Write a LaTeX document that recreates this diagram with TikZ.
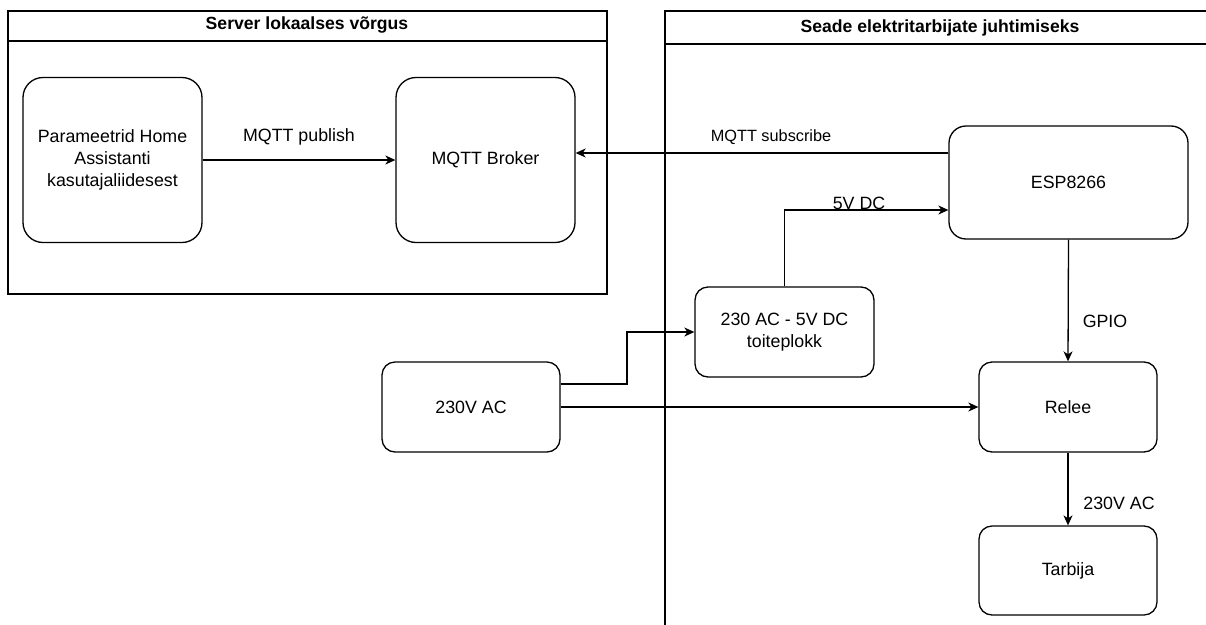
\documentclass[tikz,border=0pt]{standalone}
\usepackage{fontspec}
\setmainfont{Liberation Sans}
\usetikzlibrary{arrows.meta,calc}
\begin{document}
\begin{tikzpicture}[x=1pt,y=-1pt,
  every node/.style={font=\fontsize{17.8}{21.7}\selectfont},
  box/.style={draw, line width=1.3pt, rounded corners=#1, align=center, inner sep=0pt},
  box/.default=13pt,
  arr/.style={draw, line width=1.3pt, -{Stealth[length=10pt,width=9pt,inset=3pt]}},
  frame/.style={draw, line width=1.3pt},
  lbl/.style={inner sep=0pt},
  title/.style={inner sep=0pt, font=\fontsize{17.6}{21}\selectfont\bfseries}]
\clip (0,0) rectangle (1206,624);
\fill[white] (0,0) rectangle (1206,624);
% containers
\draw[frame] (8,11) rectangle (607,294);
\draw[frame] (8,41) -- (607,41);
\node[title] (t1) at (307,25) {Server lokaalses võrgus};
\draw[frame] (665,11) rectangle (1230,650);
\draw[frame] (665,44) -- (1230,44);
\node[title] (t2) at (940,28) {Seade elektritarbijate juhtimiseks};
% nodes
\node[box=20pt, minimum width=179pt, minimum height=165pt] (param) at (112.5,160) {Parameetrid Home\\Assistanti\\kasutajaliidesest};
\node[box=20pt, minimum width=179pt, minimum height=165pt] (broker) at (485.5,160) {MQTT Broker};
\node[box=17pt, minimum width=239pt, minimum height=113pt] (esp) at (1068.5,182.5) {ESP8266};
\node[box, minimum width=179pt, minimum height=90pt] (psu) at (784.5,332) {230 AC - 5V DC\\toiteplokk};
\node[box, minimum width=178pt, minimum height=90pt] (ac) at (471,407) {230V AC};
\node[box, minimum width=178pt, minimum height=90pt] (relee) at (1068,407) {Relee};
\node[box, minimum width=178pt, minimum height=89pt] (tarb) at (1068,570.5) {Tarbija};
% connectors
\draw[arr] (param) -- (broker);
\node[lbl] (l1) at (299,137) {MQTT publish};
\draw[arr] (esp.west |- 0,153) -- (broker.east |- 0,153);
\node[lbl, font=\fontsize{16.3}{19}\selectfont] (l2) at (771,137) {MQTT subscribe};
\draw[arr] (psu.north) |- (esp.west |- 0,210);
\node[lbl] (l3) at (859,203) {5V DC};
\draw[arr] (ac.east |- 0,384) -- (627,384) |- (psu.west);
\draw[arr] (ac) -- (relee);
\draw[arr] (esp.south) -- (relee.north);
\node[lbl] (l4) at (1105,321) {GPIO};
\draw[arr] (relee) -- (tarb);
\node[lbl] (l5) at (1119,503) {230V AC};
\end{tikzpicture}
\end{document}
